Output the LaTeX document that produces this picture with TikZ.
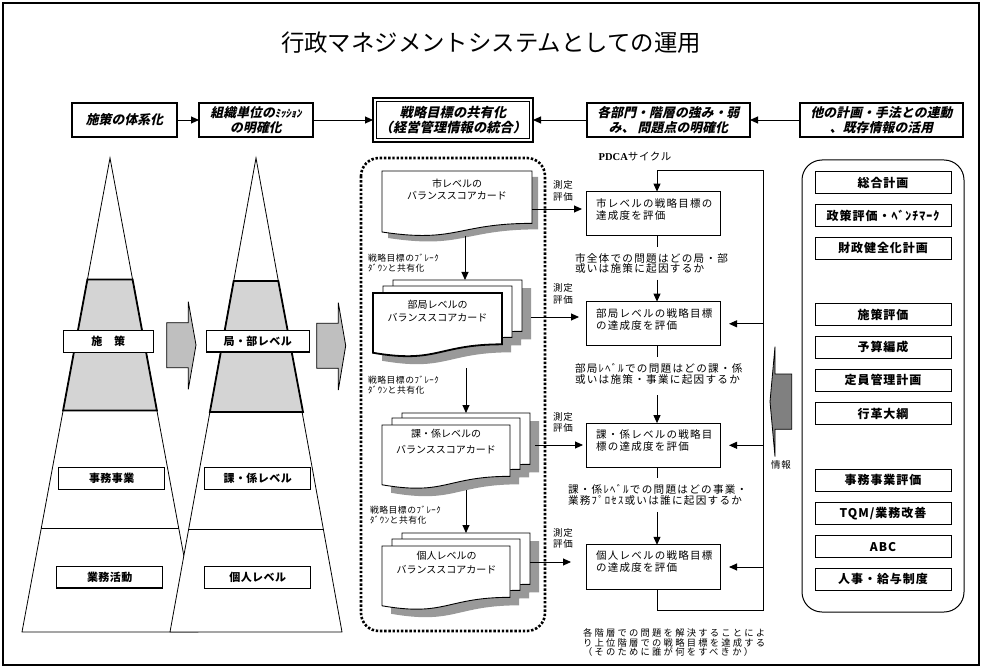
\documentclass[tikz,border=0pt]{standalone}
\usepackage{fontspec}
\usetikzlibrary{arrows.meta}
\newfontfamily\gt{Noto Sans CJK JP}
\newfontfamily\gtls[LetterSpace=4]{Noto Sans CJK JP}
\newfontfamily\gtlw[LetterSpace=8]{Noto Sans CJK JP}
\newfontfamily\gtbit[BoldFeatures={FakeSlant=0.22},LetterSpace=1]{Noto Sans CJK JP}
\newfontfamily\mc[LetterSpace=12]{Noto Sans CJK JP}
\newfontfamily\mcs[LetterSpace=6]{Noto Sans CJK JP}
\newfontfamily\mcw[LetterSpace=24]{Noto Sans CJK JP}
\newfontfamily\rmb{Liberation Serif}
\setlength\lineskiplimit{-100pt}
\newcommand\bsccard[5]{\path[#1] (#2,#3) -- (#4,#3) -- (#4,{#3+0.802*#5}) .. controls ({(#2+#4)/2},{#3+0.802*#5}) and ({(#2+#4)/2},{#3+1.1075*#5}) .. (#2,{#3+0.934*#5}) -- cycle;}
\begin{document}
\begin{tikzpicture}[x=1pt,y=-1pt,
  every node/.style={inner sep=0pt,outer sep=0pt},
  arr/.style={-{Triangle[length=8pt,width=7pt]},line width=0.9pt},
  topbox/.style={draw,line width=1.2pt,fill=white,minimum height=34pt,align=center,font=\gtbit\bfseries\fontsize{12.8}{15}\selectfont},
  lvlbox/.style={draw,line width=1.1pt,fill=white,minimum width=106pt,minimum height=21.6pt,font=\gtls\bfseries\fontsize{11}{12}\selectfont},
  listbox/.style={draw,line width=1pt,fill=white,minimum width=136pt,minimum height=22pt,font=\gtlw\bfseries\fontsize{12}{13}\selectfont},
  pbox/.style={draw,line width=1pt,fill=white,minimum width=134pt,minimum height=44.3pt},
  ptext/.style={anchor=west,align=left,font=\mc\fontsize{10.5}{11.7}\selectfont},
  qtext/.style={anchor=west,align=left,font=\mc\fontsize{10.6}{10.5}\selectfont},
  mtext/.style={align=center,font=\mcs\fontsize{9.5}{11.7}\selectfont},
  bdtext/.style={anchor=west,align=left,font=\mcs\fontsize{8.8}{10}\selectfont},
  cardtext/.style={align=center,font=\gt\fontsize{10}{12.7}\selectfont},
  shadow/.style={fill=black!40},
  card/.style={draw,fill=white,line width=0.9pt},
  blockarr/.style={draw,line width=0.8pt,fill=black!25},
  pyr/.style={draw,line width=0.8pt,fill=white},
  band/.style={draw,line width=1.8pt,fill=black!17}
]
\useasboundingbox (0,0) rectangle (982,668);
\fill[white] (0,0) rectangle (982,668);
\draw[line width=2.5pt] (3,3) rectangle (979,665);

\node[font=\gt\fontsize{23.4}{28}\selectfont] (title) at (491,43) {行政マネジメントシステムとしての運用};

% top row
\node[topbox,minimum width=105pt] (t1) at (124.5,120) {施策の体系化};
\node[topbox,minimum width=114pt] (t2) at (256,120) {組織単位の{\fontsize{10.5}{15}\selectfont ﾐｯｼｮﾝ}\\の明確化};
\node[topbox,minimum width=160pt,minimum height=44pt,line width=1.6pt,font=\gtbit\bfseries\fontsize{13.2}{15}\selectfont] (t3) at (453,120) {戦略目標の共有化\\（経営管理情報の統合）};
\draw[line width=0.9pt] ([shift={(3.5,3.5)}]t3.north west) rectangle ([shift={(-3.5,-3.5)}]t3.south east);
\node[topbox,minimum width=163pt] (t4) at (668.5,120) {各部門・階層の強み・弱\\み、 問題点の明確化};
\node[topbox,minimum width=163pt] (t5) at (881.5,120) {他の計画・手法との連動\\、既存情報の活用};
\draw[arr] (t1.east) -- (t2.west);
\draw[arr] (t2.east) -- (t3.west);
\draw[arr] (t5.west) -- (t4.east);
\draw[arr] (t4.west) -- (t3.east);

% pyramids
\path[pyr] (110,158) -- (198,632) -- (22,632) -- cycle;
\path[band] (87.4,279.5) -- (132.6,279.5) -- (156.9,410.5) -- (63.1,410.5) -- cycle;
\draw[line width=0.8pt] (41.3,528) -- (178.7,528);
\path[pyr] (256,158) -- (342,632) -- (170,632) -- cycle;
\path[band] (233.7,281) -- (278.3,281) -- (303,412) -- (209.9,412) -- cycle;
\draw[line width=0.8pt] (188.6,529.5) -- (323.4,529.5);

\node[lvlbox,minimum width=90pt] (L1) at (108.3,341.7) {施　策};
\node[lvlbox] (L2) at (111.7,478.5) {事務事業};
\node[lvlbox] (L3) at (109.7,577.2) {業務活動};
\node[lvlbox,minimum width=103pt] (R1) at (257.7,341.2) {局・部レベル};
\node[lvlbox] (R2) at (257.7,478.5) {課・係レベル};
\node[lvlbox] (R3) at (257.7,577.5) {個人レベル};

\path[blockarr] (166.7,322.7) -- (188.3,322.7) -- (188.3,301.7) -- (196,345) -- (188.3,389.3) -- (188.3,367.7) -- (166.7,367.7) -- cycle;
\path[blockarr] (316.7,323.3) -- (338.3,323.3) -- (338.3,302.7) -- (345.7,345.7) -- (338.3,390) -- (338.3,368.3) -- (316.7,368.3) -- cycle;

% dotted group
\draw[line width=2.6pt,dash pattern=on 2.4pt off 1.8pt,rounded corners=18pt] (361,158) rectangle (545,631);

% cards
\bsccard{shadow}{388}{177}{538}{65.3}
\bsccard{card}{382}{171}{532}{65.3}
\node[cardtext] (c1) at (457,189.5) {市レベルの\\バランススコアカード};

\bsccard{shadow}{402}{288}{531}{64}
\bsccard{shadow}{392}{294}{521}{64}
\bsccard{shadow}{382}{301}{511}{64}
\bsccard{card}{393}{280}{522}{64}
\bsccard{card}{383}{286}{512}{64}
\bsccard{card,line width=1.8pt}{373}{293}{502}{64}
\node[cardtext] (c2) at (437.5,311.3) {部局レベルの\\バランススコアカード};

\bsccard{shadow}{411}{421}{539}{64}
\bsccard{shadow}{401}{426}{529}{64}
\bsccard{shadow}{391}{433}{519}{64}
\bsccard{card}{402}{413}{530}{64}
\bsccard{card}{392}{418}{520}{64}
\bsccard{card}{382}{425}{510}{64}
\node[cardtext,font=\gt\fontsize{10}{16}\selectfont] (c3) at (446,441.7) {課・係レベルの\\バランススコアカード};

\bsccard{shadow}{411}{541}{539}{64}
\bsccard{shadow}{401}{547}{529}{64}
\bsccard{shadow}{391}{554}{519}{64}
\bsccard{card}{402}{533}{530}{64}
\bsccard{card}{392}{539}{520}{64}
\bsccard{card}{382}{546}{510}{64}
\node[cardtext,font=\gt\fontsize{10}{14.3}\selectfont] (c4) at (446.5,562.8) {個人レベルの\\バランススコアカード};

\coordinate (c1b) at (465,236); \coordinate (c2t) at (465,280);
\coordinate (c2b) at (466,368); \coordinate (c3t) at (466,413);
\coordinate (c3b) at (466,490); \coordinate (c4t) at (466,533);
\draw[arr] (c1b) -- (c2t);
\draw[arr] (c2b) -- (c3t);
\draw[arr] (c3b) -- (c4t);

\node[bdtext] (bd1) at (368,263.3) {戦略目標のﾌﾞﾚｰｸ\\ﾀﾞｳﾝと共有化};
\node[bdtext] (bd2) at (368,385) {戦略目標のﾌﾞﾚｰｸ\\ﾀﾞｳﾝと共有化};
\node[bdtext] (bd3) at (370,514.8) {戦略目標のﾌﾞﾚｰｸ\\ﾀﾞｳﾝと共有化};

% PDCA column
\node[font=\fontsize{10.5}{12}\selectfont] (pdca) at (635,157) {{\rmb\bfseries PDCA}{\mcs サイクル}};
\node[pbox] (p1) at (653,213.8) {};
\node[pbox] (p2) at (653,323.8) {};
\node[pbox] (p3) at (653,445.3) {};
\node[pbox] (p4) at (653,567) {};
\node[ptext] (p1t) at (596,209.2) {市レベルの戦略目標の\\達成度を評価};
\node[ptext] (p2t) at (596,319.2) {部局レベルの戦略目標\\の達成度を評価};
\node[ptext] (p3t) at (596,440.5) {課・係レベルの戦略目\\標の達成度を評価};
\node[ptext] (p4t) at (596,561.5) {個人レベルの戦略目標\\の達成度を評価};

\node[qtext] (q12) at (575,263.3) {市全体での問題はどの局・部\\或いは施策に起因するか};
\node[qtext] (q23) at (575,373.8) {部局ﾚﾍﾞﾙでの問題はどの課・係\\或いは施策・事業に起因するか};
\node[qtext] (q34) at (568,495) {課・係ﾚﾍﾞﾙでの問題はどの事業・\\業務ﾌﾟﾛｾｽ或いは誰に起因するか};

\draw[line width=0.9pt] ([xshift=4pt]p1.south) -- ++(0,11);
\draw[arr] ([xshift=4pt,yshift=22pt]p2.north) -- ([xshift=4pt]p2.north);
\draw[line width=0.9pt] ([xshift=4pt]p2.south) -- ++(0,11);
\draw[arr] ([xshift=4pt,yshift=28pt]p3.north) -- ([xshift=4pt]p3.north);
\draw[line width=0.9pt] ([xshift=4pt]p3.south) -- ++(0,11);
\draw[arr] ([xshift=4pt,yshift=33pt]p4.north) -- ([xshift=4pt]p4.north);

\coordinate (lbr) at (763,610);
\coordinate (ltr) at (763,170);
\draw[arr] ([xshift=4pt]p4.south) |- (lbr) -- (ltr) -| ([xshift=4pt]p1.north);
\draw[arr,shorten >=9pt] (lbr |- p2.east) -- (p2.east);
\draw[arr,shorten >=9pt] (lbr |- p3.east) -- (p3.east);
\draw[arr,shorten >=9pt] (lbr |- p4.east) -- (p4.east);

% card -> box
\coordinate (c1r) at (532,209);
\coordinate (c2r) at (531,317);
\coordinate (c3r) at (535,445);
\coordinate (c4r) at (530,562);
\draw[arr,shorten >=4pt] (c1r) -- (c1r -| p1.west);
\draw[arr,shorten >=7pt] (c2r) -- (c2r -| p2.west);
\draw[arr,shorten >=3pt] (c3r) -- (c3r -| p3.west);
\draw[arr,shorten >=15pt] (c4r) -- (c4r -| p4.west);
\node[mtext] (m1) at (563,191) {測定\\評価};
\node[mtext] (m2) at (563,294) {測定\\評価};
\node[mtext] (m3) at (563,422.5) {測定\\評価};
\node[mtext] (m4) at (563,538.5) {測定\\評価};

% info arrow
\path[draw,line width=0.8pt,fill=black!50] (775,346.7) -- (775,374) -- (791.7,374) -- (791.7,429.3) -- (775,429.3) -- (775,456.7) -- (770,401.7) -- cycle;
\node[mtext] (info) at (781,465) {情報};

% right list
\draw[line width=1pt,rounded corners=20pt] (802,160) rectangle (964,612);
\node[listbox] (l1) at (883,182.5) {総合計画};
\node[listbox] (l2) at (883,215.5) {政策評価・ﾍﾞﾝﾁﾏｰｸ};
\node[listbox] (l3) at (883,248.3) {財政健全化計画};
\node[listbox] (l4) at (883,314.5) {施策評価};
\node[listbox] (l5) at (883,347) {予算編成};
\node[listbox] (l6) at (883,380) {定員管理計画};
\node[listbox] (l7) at (883,413.8) {行革大綱};
\node[listbox] (l8) at (883,480) {事務事業評価};
\node[listbox] (l9) at (883,513.3) {TQM/業務改善};
\node[listbox] (l10) at (883,546.7) {ABC};
\node[listbox] (l11) at (883,579.2) {人事・給与制度};

% bottom text
\node[anchor=west,align=left,font=\mcw\fontsize{9.3}{9.3}\selectfont] (concl) at (583,642.7) {各階層での問題を解決することによ\\り上位階層での戦略目標を達成する\\（そのために誰が何をすべきか）};
\end{tikzpicture}
\end{document}
